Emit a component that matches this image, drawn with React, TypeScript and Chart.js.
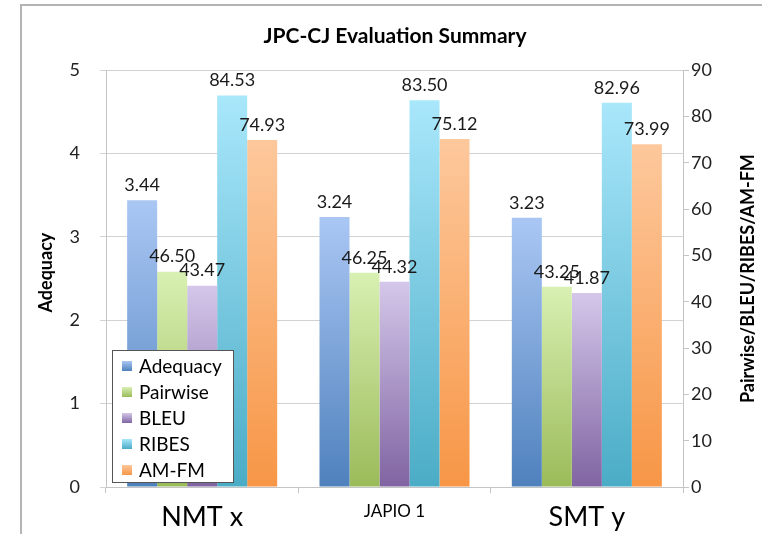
import React, { useEffect, useRef } from "react";
import { Chart, registerables } from "chart.js";

Chart.register(...registerables);

const title = "JPC-CJ Evaluation Summary";
const categories = ["NMT x", "JAPIO 1", "SMT y"];
const seriesNames = ["Adequacy", "Pairwise", "BLEU", "RIBES", "AM-FM"];
const adequacy = [3.44, 3.24, 3.23];
const pairwise = [46.5, 46.25, 43.25];
const bleu = [43.47, 44.32, 41.87];
const ribes = [84.53, 83.5, 82.96];
const amfm = [74.93, 75.12, 73.99];
const leftAxis = { min: 0, max: 5, step: 1, title: "Adequacy" };
const rightAxis = { min: 0, max: 90, step: 10, title: "Pairwise/BLEU/RIBES/AM-FM" };
const lightColors = ["#aac7f4", "#d8f0b2", "#d4c7ea", "#a9e7fb", "#fdc89c"];
const darkColors = ["#4f81bd", "#9bbb59", "#8064a2", "#4bacc6", "#f79646"];

const FONT = "Lato, 'Open Sans', sans-serif";

function gradientFill(light: string, dark: string) {
  return (ctx: any) => {
    const chart = ctx.chart;
    const area = chart.chartArea;
    if (!area || ctx.type !== "data") return dark;
    const meta = chart.getDatasetMeta(ctx.datasetIndex);
    const scale = chart.scales[meta.yAxisID];
    const top = scale.getPixelForValue(ctx.raw);
    const g = chart.ctx.createLinearGradient(0, top, 0, area.bottom);
    g.addColorStop(0, light);
    g.addColorStop(1, dark);
    return g;
  };
}

const framePlugin = {
  id: "frame",
  beforeDraw(chart: any) {
    const c = chart.ctx;
    c.save();
    c.fillStyle = "#ffffff";
    c.fillRect(0, 0, chart.width, chart.height);
    c.strokeStyle = "#b4b4b4";
    c.lineWidth = 2;
    c.beginPath();
    c.moveTo(21, chart.height);
    c.lineTo(21, 5);
    c.lineTo(chart.width, 5);
    c.stroke();
    c.restore();
  },
};

const labelsPlugin = {
  id: "valueLabels",
  afterDatasetsDraw(chart: any) {
    const c = chart.ctx;
    c.save();
    c.font = `18px ${FONT}`;
    c.fillStyle = "#1a1a1a";
    c.textAlign = "center";
    c.textBaseline = "bottom";
    chart.data.datasets.forEach((ds: any, i: number) => {
      const meta = chart.getDatasetMeta(i);
      meta.data.forEach((el: any, j: number) => {
        c.fillText(Number(ds.data[j]).toFixed(2), el.x, el.y - 6);
      });
    });
    c.restore();
  },
};

const axisTitlesPlugin = {
  id: "axisTitles",
  afterDraw(chart: any) {
    const c = chart.ctx;
    const a = chart.chartArea;
    const cy = (a.top + a.bottom) / 2;
    c.save();
    c.font = `bold 18px ${FONT}`;
    c.fillStyle = "#000";
    c.textAlign = "center";
    c.textBaseline = "middle";
    c.save();
    c.translate(46, cy - 6);
    c.rotate(-Math.PI / 2);
    c.fillText(leftAxis.title, 0, 0);
    c.restore();
    c.save();
    c.translate(748, cy);
    c.rotate(-Math.PI / 2);
    c.fillText(rightAxis.title, 0, 0);
    c.restore();
    c.restore();
  },
};

const legendPlugin = {
  id: "innerLegend",
  afterDraw(chart: any) {
    const c = chart.ctx;
    const a = chart.chartArea;
    const w = 121;
    const h = 132;
    const x = a.left + 6;
    const y = a.bottom - 5 - h;
    c.save();
    c.fillStyle = "#ffffff";
    c.fillRect(x, y, w, h);
    c.strokeStyle = "#555";
    c.lineWidth = 1;
    c.strokeRect(x + 0.5, y + 0.5, w, h);
    c.font = `19px ${FONT}`;
    c.textBaseline = "middle";
    c.textAlign = "left";
    chart.data.datasets.forEach((ds: any, i: number) => {
      const ry = y + 16 + i * 26;
      const g = c.createLinearGradient(0, ry - 5, 0, ry + 5);
      g.addColorStop(0, lightColors[i]);
      g.addColorStop(1, darkColors[i]);
      c.fillStyle = g;
      c.fillRect(x + 10, ry - 5, 10, 10);
      c.fillStyle = "#000";
      c.fillText(ds.label, x + 27, ry + 1);
    });
    c.restore();
  },
};

export default function App() {
  const ref = useRef<HTMLCanvasElement>(null);
  useEffect(() => {
    document.body.style.margin = "0";
    const values = [adequacy, pairwise, bleu, ribes, amfm];
    const chart = new Chart(ref.current!, {
      type: "bar",
      data: {
        labels: categories,
        datasets: seriesNames.map((name, i) => ({
          label: name,
          data: values[i],
          yAxisID: i === 0 ? "y" : "y1",
          backgroundColor: gradientFill(lightColors[i], darkColors[i]),
          borderWidth: 0,
          barPercentage: 1,
          categoryPercentage: 0.78,
        })),
      },
      options: {
        animation: false,
        responsive: false,
        devicePixelRatio: 1,
        layout: { padding: { left: 28, right: 0, top: 0, bottom: 0 } },
        plugins: {
          legend: { display: false },
          tooltip: { enabled: false },
          title: {
            display: true,
            text: title,
            color: "#000",
            font: { family: FONT, size: 21, weight: "bold" },
            padding: { top: 24, bottom: 21 },
          },
        },
        scales: {
          x: {
            grid: { display: true, drawOnChartArea: false, tickLength: 6, color: "#c4c4c4", offset: true },
            border: { color: "#c4c4c4" },
            ticks: {
              color: "#000",
              padding: 8,
              font: (ctx: any) => ({ family: FONT, size: ctx.index === 1 ? 17 : 27 }),
            },
            afterFit: (s: any) => {
              s.height = 47;
            },
          },
          y: {
            position: "left",
            min: leftAxis.min,
            max: leftAxis.max,
            ticks: { stepSize: leftAxis.step, color: "#222", padding: 20, font: { family: FONT, size: 18 } },
            grid: { color: "#d2d2d2", tickLength: 6 },
            border: { color: "#c4c4c4" },
            afterFit: (s: any) => {
              s.width = 78;
            },
          },
          y1: {
            position: "right",
            min: rightAxis.min,
            max: rightAxis.max,
            ticks: { stepSize: rightAxis.step, color: "#222", padding: 2, font: { family: FONT, size: 18 } },
            grid: { drawOnChartArea: false, color: "#c4c4c4", tickLength: 6 },
            border: { color: "#c4c4c4" },
            afterFit: (s: any) => {
              s.width = 79;
            },
          },
        },
      },
      plugins: [framePlugin, labelsPlugin, axisTitlesPlugin, legendPlugin],
    } as any);
    return () => chart.destroy();
  }, []);
  return (
    <div style={{ width: 762, height: 534 }}>
      <canvas ref={ref} width={762} height={534} style={{ display: "block" }} />
    </div>
  );
}
